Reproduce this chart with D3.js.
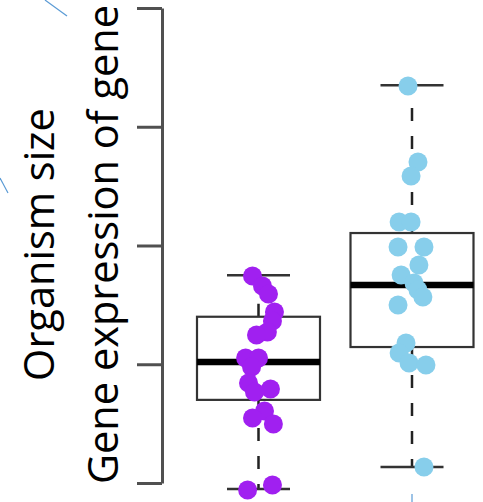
<!DOCTYPE html>
<html>
<head>
<meta charset="utf-8">
<script src="https://cdn.jsdelivr.net/npm/d3@7"></script>
<style>
  html, body { margin: 0; padding: 0; background: #fff; }
  svg { display: block; }
</style>
</head>
<body>
<svg id="chart" width="483" height="502"></svg>
<script>
// ---- data ----
const categories = ["A", "B"];
const colors = ["#A020F0", "#87CEEB"];
const yTicks = [0, 1, 2, 3, 4];
const axisLines = ["Organism size", "Gene expression of gene"];

// box statistics per category: lower whisker, Q1, median, Q3, upper whisker
const whiskerLow = [-0.05, 0.135];
const q1 = [0.70, 1.145];
const median = [1.02, 1.667];
const q3 = [1.40, 2.105];
const whiskerHigh = [1.75, 3.35];

// points (value and horizontal jitter, in category units)
const valuesA = [1.743, 1.659, 1.592, 1.440, 1.364, 1.272, 1.246, 1.053, 1.053, 0.977,
                 0.842, 0.792, 0.766, 0.606, 0.547, 0.497, -0.017, -0.059];
const jitterA = [-0.039, 0.026, 0.065, 0.104, 0.091, 0.058, -0.013, -0.084, 0.0, -0.045,
                 -0.065, 0.078, -0.026, 0.039, -0.039, 0.097, 0.091, -0.071];
const valuesB = [3.343, 2.703, 2.585, 2.198, 2.198, 1.987, 1.987, 1.836, 1.752, 1.684,
                 1.625, 1.566, 1.499, 1.179, 1.095, 1.011, 0.994, 0.135];
const jitterB = [-0.026, 0.039, -0.006, -0.084, -0.006, -0.091, 0.078, 0.045, -0.071, 0.013,
                 0.039, 0.071, -0.091, -0.039, -0.084, -0.019, 0.091, 0.078];

// ---- drawing ----
const svg = d3.select("#chart");

const y = d3.scaleLinear().domain([0, 4]).range([483, 8]);
const x = d3.scaleLinear().domain([1, 2]).range([258.5, 412]);
const boxW = 123;   // px
const capW = 63;    // px

// decorative connector fragments
const deco = svg.append("g").attr("stroke", "#5B9BD5").attr("stroke-width", 1.2).attr("fill", "none");
deco.append("line").attr("x1", 45).attr("y1", 0).attr("x2", 67).attr("y2", 16);
deco.append("line").attr("x1", 0).attr("y1", 178).attr("x2", 8).attr("y2", 193);
deco.append("line").attr("x1", 412).attr("y1", 494).attr("x2", 412).attr("y2", 502);

// y axis
const axis = svg.append("g")
  .attr("transform", "translate(162,0)")
  .call(d3.axisLeft(y).tickValues(yTicks).tickSize(25).tickSizeOuter(0).tickFormat(""));
axis.selectAll("path, line").attr("stroke", "#505050").attr("stroke-width", 3);

// axis title (two lines, rotated)
const titleG = svg.append("g").attr("transform", "translate(0," + (y(2) - 1) + ") rotate(-90)");
titleG.selectAll("text").data(axisLines).join("text")
  .attr("x", 0)
  .attr("y", (d, i) => 54 + i * 64)
  .attr("text-anchor", "middle")
  .attr("font-family", "'Open Sans', sans-serif")
  .attr("font-size", 41.5)
  .attr("fill", "#000")
  .text(d => d);

// boxes
const boxes = categories.map((c, i) => ({
  i, lo: whiskerLow[i], q1: q1[i], med: median[i], q3: q3[i], hi: whiskerHigh[i]
}));
const bg = svg.append("g");
boxes.forEach(b => {
  const cx = x(b.i + 1);
  const g = bg.append("g");
  // whiskers (dashed)
  g.append("line").attr("x1", cx).attr("x2", cx).attr("y1", y(b.q3)).attr("y2", y(b.hi))
    .attr("stroke", "#222").attr("stroke-width", 2.5).attr("stroke-dasharray", "13,15");
  g.append("line").attr("x1", cx).attr("x2", cx).attr("y1", y(b.q1)).attr("y2", y(b.lo))
    .attr("stroke", "#222").attr("stroke-width", 2.5).attr("stroke-dasharray", "13,15");
  // caps
  [b.hi, b.lo].forEach(v => {
    g.append("line").attr("x1", cx - capW / 2).attr("x2", cx + capW / 2)
      .attr("y1", y(v)).attr("y2", y(v))
      .attr("stroke", "#333").attr("stroke-width", 2.5);
  });
  // box
  g.append("rect").attr("x", cx - boxW / 2).attr("width", boxW)
    .attr("y", y(b.q3)).attr("height", y(b.q1) - y(b.q3))
    .attr("fill", "none").attr("stroke", "#333").attr("stroke-width", 2.2);
  // median
  g.append("line").attr("x1", cx - boxW / 2).attr("x2", cx + boxW / 2)
    .attr("y1", y(b.med)).attr("y2", y(b.med))
    .attr("stroke", "#000").attr("stroke-width", 6.5);
});

// points
const pts = [];
valuesA.forEach((v, k) => pts.push({ c: 0, v, j: jitterA[k] }));
valuesB.forEach((v, k) => pts.push({ c: 1, v, j: jitterB[k] }));
svg.append("g").selectAll("circle").data(pts).join("circle")
  .attr("cx", d => x(d.c + 1 + d.j))
  .attr("cy", d => y(d.v))
  .attr("r", 9.5)
  .attr("fill", d => colors[d.c]);
</script>
</body>
</html>
